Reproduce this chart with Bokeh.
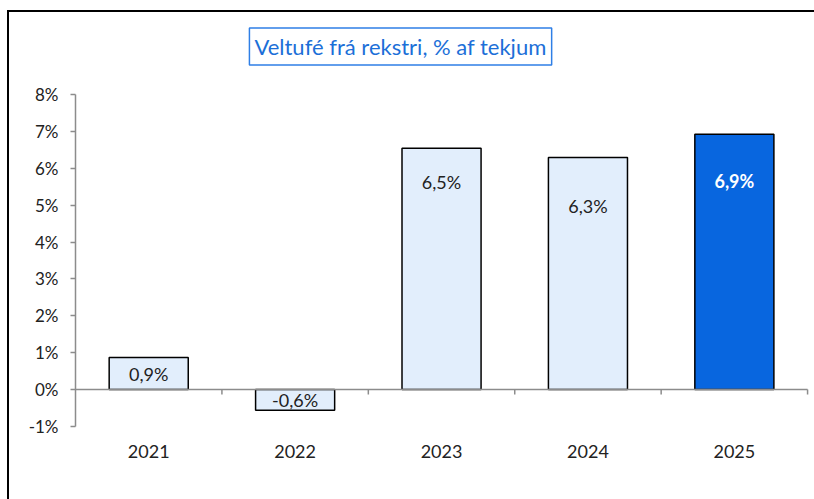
from bokeh.plotting import figure
from bokeh.models import Range1d, FixedTicker, Label, ColumnDataSource, CustomJSTickFormatter
from bokeh.embed import file_html
from bokeh.resources import INLINE

# ---- data ----
years = ["2021", "2022", "2023", "2024", "2025"]
values = [0.87, -0.56, 6.54, 6.29, 6.92]
value_labels = ["0,9%", "-0,6%", "6,5%", "6,3%", "6,9%"]
y_ticks = [-1, 0, 1, 2, 3, 4, 5, 6, 7, 8]
title_text = "Veltufé frá rekstri, % af tekjum"

# ---- layout / style ----
FONT = "Lato"
light = "#E2EEFC"
dark = "#0866DF"
xs = list(range(1, len(years) + 1))
fills = [light] * (len(years) - 1) + [dark]
label_colors = ["#222222"] * (len(years) - 1) + ["#FFFFFF"]
label_styles = ["normal"] * (len(years) - 1) + ["bold"]
# label positions: centred for small bars, near top for tall bars
label_y = [0.43, -0.28, 5.62, 4.98, 5.64]

p = figure(frame_width=735, frame_height=414, min_border_left=66, min_border_right=4,
           min_border_top=0, min_border_bottom=73,
           x_range=Range1d(0.5, 5.52), y_range=Range1d(-1, 10.22),
           output_backend="svg", toolbar_location=None,
           styles={"border-top": "2px solid black", "border-left": "2px solid black",
                   "margin-left": "7px", "margin-top": "10px"})
p.grid.visible = False
p.outline_line_color = None
p.background_fill_color = "white"
p.border_fill_color = "white"

src = ColumnDataSource(dict(x=xs, top=values, fill=fills, lab=value_labels, ly=label_y,
                            lc=label_colors, ls=label_styles))
p.vbar(x="x", top="top", bottom=0, width=0.54, fill_color="fill", line_color="black",
       line_width=1.5, source=src)

# zero line with category separator ticks
p.segment(x0=[0.5], y0=[0], x1=[5.5], y1=[0], line_color="#8C8C8C", line_width=1.5)
sep_x = [1.5, 2.5, 3.5, 4.5, 5.5]
p.segment(x0=sep_x, y0=[0] * 5, x1=sep_x, y1=[-0.13] * 5, line_color="#8C8C8C", line_width=1.5)

p.text(x="x", y="ly", text="lab", source=src, text_align="center", text_baseline="middle",
       text_color="lc", text_font_style="ls", text_font={"value": FONT}, text_font_size={"value": "18px"})

# y axis
ya = p.yaxis[0]
ya.ticker = FixedTicker(ticks=y_ticks)
ya.bounds = (-1, 8)
ya.formatter = CustomJSTickFormatter(code="return tick.toFixed(0) + '%';")
ya.axis_line_color = "#8C8C8C"
ya.axis_line_width = 1.5
ya.major_tick_line_color = "#8C8C8C"
ya.major_tick_line_width = 1.5
ya.major_tick_out = 5
ya.major_tick_in = 0
ya.minor_tick_line_color = None
ya.major_label_standoff = 12
ya.major_label_text_font = FONT
ya.major_label_text_font_size = "17px"
ya.major_label_text_color = "#222222"

# x axis (labels only)
xa = p.xaxis[0]
xa.ticker = FixedTicker(ticks=xs)
xa.major_label_overrides = {x: y for x, y in zip(xs, years)}
xa.axis_line_color = None
xa.major_tick_line_color = None
xa.minor_tick_line_color = None
xa.major_label_standoff = 12
xa.major_label_text_font = FONT
xa.major_label_text_font_size = "18px"
xa.major_label_text_color = "#222222"

# title box
p.add_layout(Label(x=2.72, y=9.3, text=title_text, text_align="center", text_baseline="middle",
                   text_font=FONT, text_font_size="22px", text_color="#1C6FD8",
                   border_line_color="#2F7FE6", border_line_width=1.5,
                   background_fill_color="white", padding=5))

open("out.html", "w").write(file_html(p, INLINE))
